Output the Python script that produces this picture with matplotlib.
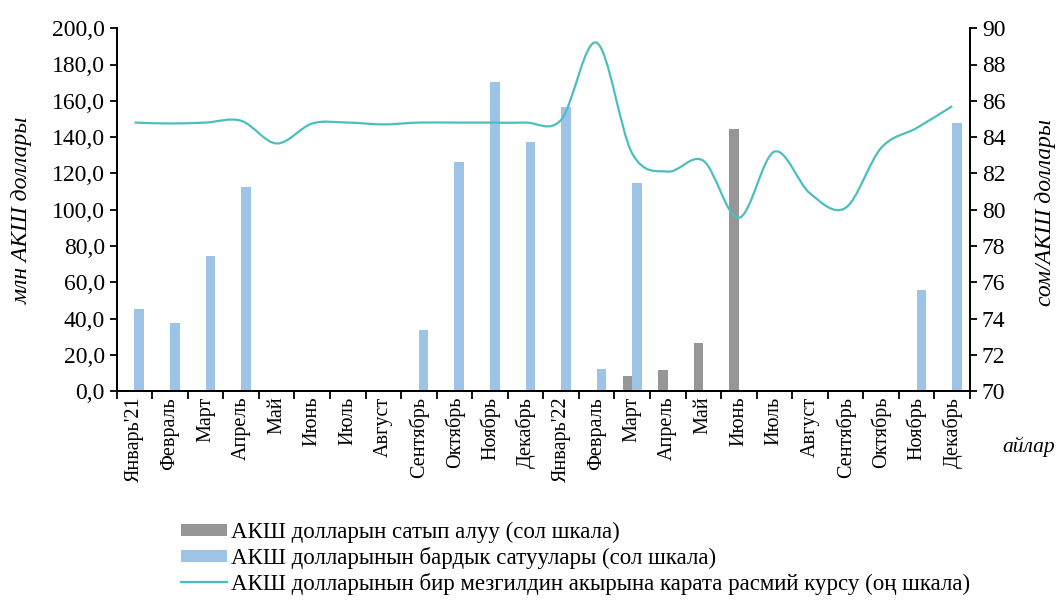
import numpy as np
import matplotlib
matplotlib.use("Agg")
import matplotlib.pyplot as plt
from matplotlib.path import Path
from matplotlib.patches import PathPatch, Patch
from matplotlib.lines import Line2D
from matplotlib.ticker import FuncFormatter, MultipleLocator

plt.rcParams["font.family"] = ["Liberation Serif", "DejaVu Serif"]

months = ["Январь'21", "Февраль", "Март", "Апрель", "Май", "Июнь", "Июль",
          "Август", "Сентябрь", "Октябрь", "Ноябрь", "Декабрь",
          "Январь'22", "Февраль", "Март", "Апрель", "Май", "Июнь", "Июль",
          "Август", "Сентябрь", "Октябрь", "Ноябрь", "Декабрь"]

# purchases of USD (left scale, mln USD)
purchases = [0, 0, 0, 0, 0, 0, 0, 0, 0, 0, 0, 0,
             0, 0, 8.5, 11.5, 26.5, 144.5, 0, 0, 0, 0, 0, 0]
# total sales of USD (left scale, mln USD)
sales = [45.5, 37.5, 74.5, 112.5, 0, 0, 0, 0, 33.5, 126.5, 170.5, 137.5,
         156.5, 12.5, 114.5, 0, 0, 0, 0, 0, 0, 0, 55.5, 147.5]
# official rate at end of period (right scale, som/USD)
rate = [84.8, 84.75, 84.8, 84.9, 83.65, 84.75, 84.8, 84.7, 84.8, 84.8, 84.8, 84.8,
        84.95, 89.2, 83.1, 82.1, 82.7, 79.55, 83.2, 80.9, 80.1, 83.4, 84.5, 85.7]

label_buy = "АКШ долларын сатып алуу (сол шкала)"
label_sell = "АКШ долларынын бардык сатуулары (сол шкала)"
label_rate = "АКШ долларынын бир мезгилдин акырына карата расмий курсу (оң шкала)"

GREY = "#969696"
BLUE = "#9DC3E6"
TEAL = "#4BBFBF"


def smooth_path(x, y):
    # Excel-like smoothed line: cubic Bezier segments (Catmull-Rom tangents)
    pts = np.column_stack([x, y]).astype(float)
    n = len(pts)
    verts = [pts[0]]
    codes = [Path.MOVETO]
    for i in range(n - 1):
        p0 = pts[i - 1] if i > 0 else pts[i]
        p1, p2 = pts[i], pts[i + 1]
        p3 = pts[i + 2] if i + 2 < n else pts[i + 1]
        c1 = p1 + (p2 - p0) / 6.0
        c2 = p2 - (p3 - p1) / 6.0
        verts += [c1, c2, p2]
        codes += [Path.CURVE4] * 3
    return Path(verts, codes)


fig = plt.figure(figsize=(10.58, 6.0), dpi=100)
ax = fig.add_axes([0.1103, 0.348, 0.8065, 0.605])
ax2 = ax.twinx()

x = np.arange(len(months))
w = 0.27
ax.bar(x - w / 2, purchases, width=w, color=GREY, zorder=2)
ax.bar(x + w / 2, sales, width=w, color=BLUE, zorder=2)

ax2.add_patch(PathPatch(smooth_path(x, rate), facecolor="none",
                        edgecolor=TEAL, lw=1.6, zorder=3))

ax.set_xlim(-0.5, len(months) - 0.5)
ax.set_ylim(0, 200)
ax2.set_ylim(70, 90)
ax.yaxis.set_major_locator(MultipleLocator(20))
ax2.yaxis.set_major_locator(MultipleLocator(2))
ax.yaxis.set_major_formatter(FuncFormatter(lambda v, p: f"{v:.1f}".replace(".", ",")))

ax.set_xticks(x)
ax.set_xticklabels(months, rotation=90, fontsize=14.5)
ax.set_xticks(np.arange(-0.5, len(months)), minor=True)
ax.tick_params(axis="x", which="major", length=0, pad=4)
ax.tick_params(axis="x", which="minor", length=6, width=1.3, direction="out")
ax.tick_params(axis="y", labelsize=17, length=5, width=1.3, direction="out")
ax2.tick_params(axis="y", labelsize=17, length=5, width=1.3, direction="out")

for a in (ax, ax2):
    a.spines["top"].set_visible(False)
    for s in ("left", "right", "bottom"):
        a.spines[s].set_linewidth(1.4)
        a.spines[s].set_color("black")

fig.text(0.021, 0.65, "млн АКШ доллары", rotation=90, style="italic",
         fontsize=17, ha="center", va="center")
fig.text(0.988, 0.645, "сом/АКШ доллары", rotation=90, style="italic",
         fontsize=17, ha="center", va="center")
fig.text(0.972, 0.255, "айлар", style="italic", fontsize=15.5,
         ha="center", va="center")

handles = [Patch(facecolor=GREY, edgecolor="none"),
           Patch(facecolor=BLUE, edgecolor="none"),
           Line2D([0], [0], color=TEAL, lw=1.6)]
fig.legend(handles, [label_buy, label_sell, label_rate],
           loc="upper left", bbox_to_anchor=(0.171, 0.13),
           bbox_transform=fig.transFigure, frameon=False, fontsize=16.5,
           handlelength=2.0, handleheight=0.44, handletextpad=0.2,
           labelspacing=0.16, borderaxespad=0, borderpad=0)

fig.savefig("out.png", dpi=100)
